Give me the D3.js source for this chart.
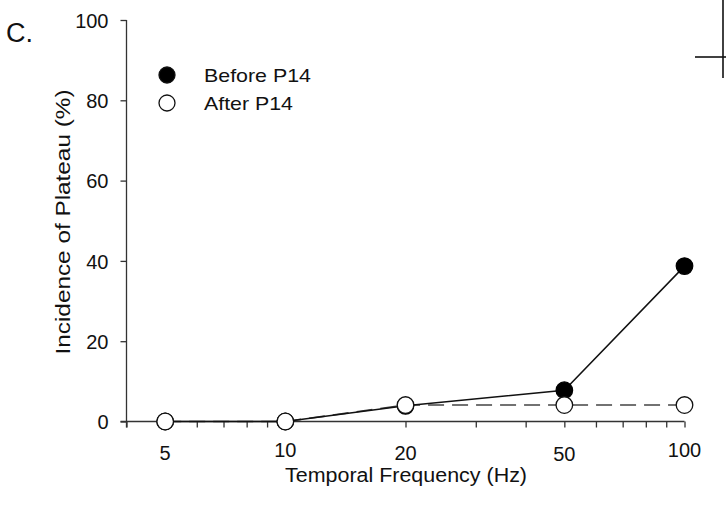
<!DOCTYPE html>
<html>
<head>
<meta charset="utf-8">
<script src="https://cdn.jsdelivr.net/npm/d3@7"></script>
<style>
html,body{margin:0;padding:0;background:#fff;}
svg{display:block;font-family:"Liberation Sans",Arial,sans-serif;}
</style>
</head>
<body>
<svg id="chart" width="726" height="508"></svg>
<script>
const frequencies = [5, 10, 20, 50, 100];
const beforeP14 = [0, 0, 3.9, 7.8, 38.7];
const afterP14 = [0, 0, 4.1, 4.1, 4.1];
const yTicks = [0, 20, 40, 60, 80, 100];
const xLabelTicks = [5, 10, 20, 50, 100];
const xMinorTicks = [4, 6, 7, 8, 9, 10, 20, 30, 40, 50, 60, 70, 80, 90, 100];
const seriesNames = ["Before P14", "After P14"];

const svg = d3.select("#chart");
const x = d3.scaleLog().domain([4, 100]).range([126.5, 684.5]);
const y = d3.scaleLinear().domain([0, 100]).range([421.5, 20]);
const FONT = "Liberation Sans, Arial, sans-serif";

// panel label
svg.append("text").attr("x", 6).attr("y", 42).attr("font-size", 27).attr("fill", "#111").text("C.");

// artifact of neighbouring panel (top right)
svg.append("line").attr("x1", 723).attr("x2", 723).attr("y1", 0).attr("y2", 78).attr("stroke", "#111").attr("stroke-width", 1.6);
svg.append("line").attr("x1", 695).attr("x2", 726).attr("y1", 57).attr("y2", 57).attr("stroke", "#111").attr("stroke-width", 1.6);

// y axis
const yAxis = d3.axisLeft(y).tickValues(yTicks).tickSize(6).tickPadding(12);
const gy = svg.append("g").attr("transform", "translate(126.5,0)").call(yAxis);
gy.select(".domain").attr("d", "M0,20V427.5").attr("stroke", "#333").attr("stroke-width", 1.3);
gy.selectAll(".tick line").attr("stroke", "#333").attr("stroke-width", 1.3);
gy.selectAll(".tick text").attr("font-size", 20).attr("fill", "#111").attr("font-family", FONT).attr("dy", "0.36em");

// x axis
const xAxis = d3.axisBottom(x).tickValues(xMinorTicks).tickSize(6).tickFormat("");
const gx = svg.append("g").attr("transform", "translate(0,421.5)").call(xAxis);
gx.select(".domain").attr("d", "M120.5,0H684.5").attr("stroke", "#333").attr("stroke-width", 1.3);
gx.selectAll(".tick line").attr("stroke", "#333").attr("stroke-width", 1.3);

const xLabelBaselines = {5: 460, 10: 457, 20: 460, 50: 461, 100: 457};
svg.append("g").selectAll("text").data(xLabelTicks).join("text")
  .attr("x", d => x(d)).attr("y", d => xLabelBaselines[d])
  .attr("text-anchor", "middle").attr("font-size", 20).attr("fill", "#111")
  .text(d => d);

// axis titles
svg.append("text").attr("x", 406).attr("y", 482).attr("text-anchor", "middle")
  .attr("font-size", 20).attr("fill", "#111")
  .attr("textLength", 242).attr("lengthAdjust", "spacingAndGlyphs")
  .text("Temporal Frequency (Hz)");
svg.append("text").attr("transform", "translate(70,222) rotate(-90)").attr("text-anchor", "middle")
  .attr("font-size", 19.5).attr("fill", "#111")
  .attr("textLength", 265).attr("lengthAdjust", "spacingAndGlyphs")
  .text("Incidence of Plateau (%)");

const line = d3.line().x(d => x(d[0])).y(d => y(d[1]));
const beforeData = frequencies.map((f, i) => [f, beforeP14[i]]);
const afterData = frequencies.map((f, i) => [f, afterP14[i]]);

svg.append("path").datum(afterData).attr("d", line).attr("fill", "none")
  .attr("stroke", "#444").attr("stroke-width", 1.6).attr("stroke-dasharray", "16,8");
svg.append("path").datum(beforeData).attr("d", line).attr("fill", "none")
  .attr("stroke", "#111").attr("stroke-width", 1.5);

svg.append("g").selectAll("circle").data(beforeData).join("circle")
  .attr("cx", d => x(d[0])).attr("cy", d => y(d[1])).attr("r", 8.3)
  .attr("fill", "#000").attr("stroke", "#000").attr("stroke-width", 1.2);
svg.append("g").selectAll("circle").data(afterData).join("circle")
  .attr("cx", d => x(d[0])).attr("cy", d => y(d[1])).attr("r", 8.3)
  .attr("fill", "#fff").attr("stroke", "#111").attr("stroke-width", 1.3);

// legend
const legendLengths = [107, 89];
const legend = svg.append("g");
seriesNames.forEach((name, i) => {
  const cy = 75 + i * 28;
  legend.append("circle").attr("cx", 167).attr("cy", cy).attr("r", 8)
    .attr("fill", i === 0 ? "#000" : "#fff").attr("stroke", "#111").attr("stroke-width", 1.3);
  legend.append("text").attr("x", 204).attr("y", cy + 7).attr("font-size", 19).attr("fill", "#111")
    .attr("textLength", legendLengths[i]).attr("lengthAdjust", "spacingAndGlyphs").text(name);
});
</script>
</body>
</html>
